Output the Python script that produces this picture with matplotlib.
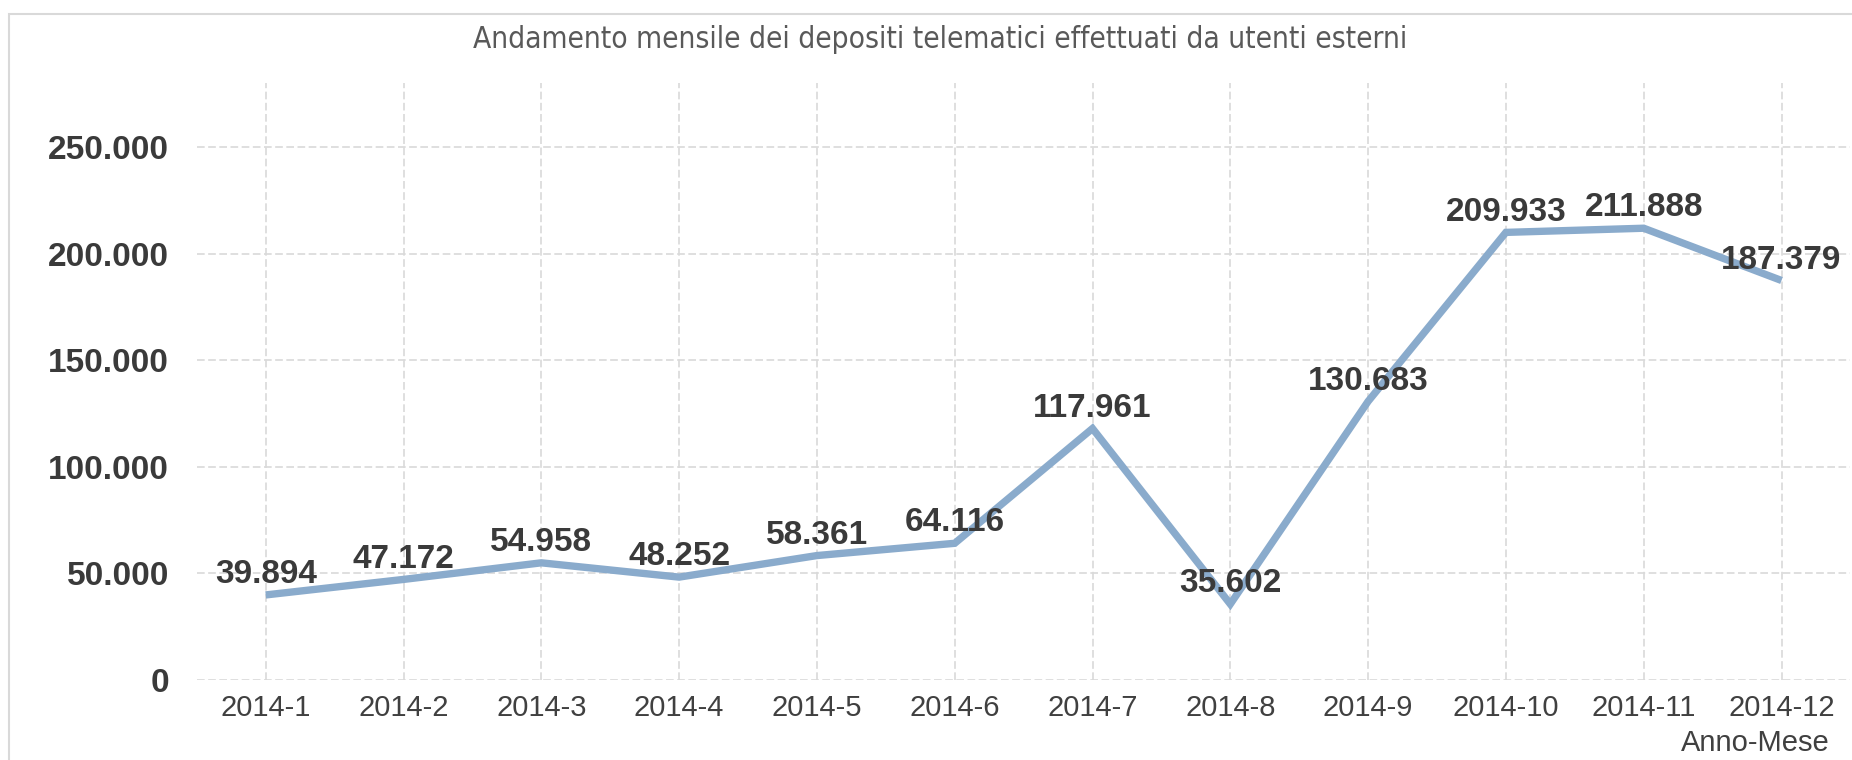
import numpy as np
import matplotlib
matplotlib.use('Agg')
import matplotlib.pyplot as plt
from matplotlib.ticker import FuncFormatter
from matplotlib.patches import Rectangle

months = ['2014-1', '2014-2', '2014-3', '2014-4', '2014-5', '2014-6',
          '2014-7', '2014-8', '2014-9', '2014-10', '2014-11', '2014-12']
depositi = [39894, 47172, 54958, 48252, 58361, 64116,
            117961, 35602, 130683, 209933, 211888, 187379]
y_ticks = [0, 50000, 100000, 150000, 200000, 250000]

title = 'Andamento mensile dei depositi telematici effettuati da utenti esterni'
xlabel = 'Anno-Mese'


def dot_thousands(v, pos=None):
    return f'{int(v):,}'.replace(',', '.')


W, H = 1852, 760
fig = plt.figure(figsize=(W / 100, H / 100), dpi=100)
ax = fig.add_axes([196.8 / W, 1 - 680 / H, (1850.4 - 196.8) / W, (680 - 83) / H])

x = np.arange(len(months))
ax.plot(x, depositi, color='#8AABCC', lw=5.3, solid_joinstyle='miter',
        solid_capstyle='butt', zorder=3)

for i, v in enumerate(depositi):
    ax.annotate(dot_thousands(v), (i, v), xytext=(0, 8.5), textcoords='offset points',
                ha='center', va='baseline', fontsize=24, fontweight='bold',
                color='#3a3a3a', family='Liberation Sans', zorder=4)

ax.set_xlim(-0.5, 11.5)
ax.set_ylim(0, 280000)
ax.set_yticks(y_ticks)
ax.yaxis.set_major_formatter(FuncFormatter(dot_thousands))
ax.set_xticks(x, months)
ax.grid(True, color='#D9D9D9', ls=(0, (4.6, 2.1)), lw=1.2)
ax.set_axisbelow(True)
for s in ax.spines.values():
    s.set_visible(False)

ax.tick_params(axis='y', length=0, pad=20, labelsize=24, labelcolor='#3a3a3a')
ax.tick_params(axis='x', length=0, pad=10, labelsize=21, labelcolor='#404040')
for lab in ax.get_yticklabels():
    lab.set_fontweight('bold')
    lab.set_family('Liberation Sans')
for lab in ax.get_xticklabels():
    lab.set_family('Liberation Sans')

fig.text(1830 / W, 1 - 743 / H, xlabel, ha='right', va='center', fontsize=21,
         color='#404040', family='Liberation Sans')

# outer chart frame (only left/top visible in the original)
fig.add_artist(Rectangle((9 / W, -0.1), 1.2, (H - 14) / H + 0.1,
                         transform=fig.transFigure, fill=False,
                         ec='#D9D9D9', lw=1.5))

t = fig.text(940 / W, 1 - 39 / H, title, ha='center', va='center', fontsize=18,
             color='#595959', family='DejaVu Sans', fontstretch='condensed')
fig.canvas.draw()
w = t.get_window_extent().width
t.set_fontsize(18 * 935 / w)

fig.savefig('out.png', dpi=100)
